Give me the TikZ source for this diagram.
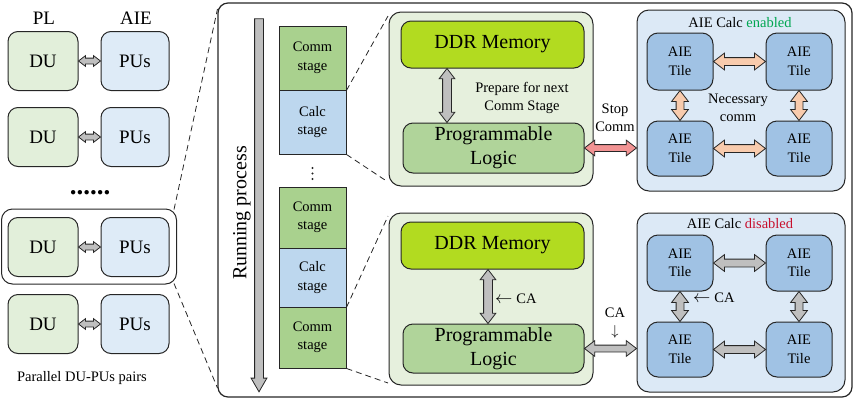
\documentclass[tikz,border=0pt]{standalone}
\usepackage{fontspec}
\setmainfont{Liberation Serif}
\usetikzlibrary{shapes.arrows,calc}
\definecolor{duF}{HTML}{E2EFDA}
\definecolor{puF}{HTML}{DEEBF7}
\definecolor{commF}{HTML}{A9D18E}
\definecolor{calcF}{HTML}{BDD7EE}
\definecolor{gbF}{HTML}{E6F0DD}
\definecolor{ddrF}{HTML}{B2DB20}
\definecolor{plF}{HTML}{B0D49A}
\definecolor{aieF}{HTML}{DCE9F6}
\definecolor{tileF}{HTML}{A0C2E4}
\definecolor{arrG}{HTML}{BFBFBF}
\definecolor{arrO}{HTML}{F8CBAD}
\definecolor{arrR}{HTML}{F29393}
\definecolor{enC}{HTML}{00A651}
\definecolor{disC}{HTML}{C8102E}
\newcommand\fA{\fontsize{19}{22}\selectfont}
\newcommand\fB{\fontsize{20}{24}\selectfont}
\newcommand\fC{\fontsize{14.5}{18.5}\selectfont}
\newcommand\larr{{\fontsize{19}{19}\selectfont$\leftarrow$}\hspace{4pt}}
% double block arrow: from, to, fill, half shaft width, head extend
\newcommand\barrow[5]{%
  \path let \p1=(#1), \p2=(#2),
    \n1={veclen(\x2-\x1,\y2-\y1)}, \n2={atan2(\y2-\y1,\x2-\x1)} in
    node[blockarr, fill=#3, inner sep=#4, double arrow head extend=#5,
         minimum height=\n1, rotate=\n2] at ($(\p1)!0.5!(\p2)$) {};}
\begin{document}
\begin{tikzpicture}[x=1pt,y=-1pt,
  rbox/.style={draw=black!85, line width=1pt, inner sep=0pt, align=center},
  du/.style={rbox, rounded corners=10pt, fill=duF, minimum width=70pt, minimum height=59pt, font=\fA},
  pu/.style={rbox, rounded corners=10pt, fill=puF, minimum width=68pt, minimum height=59pt, font=\fA},
  stagebox/.style={rbox, line width=0.9pt, minimum width=67pt, font=\fC},
  gbox/.style={rbox, rounded corners=12pt, fill=gbF, minimum width=204pt},
  ddr/.style={rbox, rounded corners=10pt, fill=ddrF, minimum width=183pt, minimum height=47pt, font=\fB},
  plbox/.style={rbox, rounded corners=10pt, fill=plF, minimum width=181pt, minimum height=50pt, font=\fB},
  aiebox/.style={rbox, rounded corners=12pt, fill=aieF, minimum width=208pt},
  tile/.style={rbox, rounded corners=11pt, fill=tileF, minimum width=66pt, font=\fC},
  lbl/.style={inner sep=0pt, align=center, font=\fC},
  blockarr/.style={double arrow, draw=black!85, line width=0.8pt, minimum width=0pt,
    double arrow tip angle=75},
  dline/.style={draw=black!85, line width=0.8pt, dash pattern=on 6pt off 4pt}
]
\useasboundingbox (0,0) rectangle (855,400);

% ---------------- left column ----------------
\node[inner sep=0pt, font=\fA] (plT) at (44,18) {PL};
\node[inner sep=0pt, font=\fA] (aieT) at (136,18) {AIE};
\node[du] (du1) at (43,61) {DU};
\node[pu] (pu1) at (135,61) {PUs};
\node[du] (du2) at (43,137) {DU};
\node[pu] (pu2) at (135,137) {PUs};
\node[inner sep=0pt, anchor=base, font=\fontsize{27}{28}\selectfont\bfseries] (ldots) at (90,194) {......};
\node[rbox, rounded corners=11pt, minimum width=175pt, minimum height=75pt] (hl) at (89,246.5) {};
\node[du] (du3) at (43,247) {DU};
\node[pu] (pu3) at (135,247) {PUs};
\node[du] (du4) at (43,324) {DU};
\node[pu] (pu4) at (135,324) {PUs};
\node[lbl] (par) at (82,378) {Parallel DU-PUs pairs};
\barrow{du1.east}{pu1.west}{arrG}{2.5pt}{2.5pt}
\barrow{du2.east}{pu2.west}{arrG}{2.5pt}{2.5pt}
\barrow{du3.east}{pu3.west}{arrG}{2.5pt}{2.5pt}
\barrow{du4.east}{pu4.west}{arrG}{2.5pt}{2.5pt}

% ---------------- big frame ----------------
\node[rbox, line width=1.2pt, rounded corners=10pt, minimum width=634pt, minimum height=394pt] (big) at (535,200) {};
\coordinate (bz1) at (217.5,9);
\coordinate (bz2) at (217.5,388);
\draw[dline] ([xshift=-3pt,yshift=-1pt]hl.north east) -- (bz1);
\draw[dline] ([xshift=-3pt,yshift=1pt]hl.south east) -- (bz2);

% running process arrow
\coordinate (ra1) at (259,15);
\coordinate (ra2) at (259,388);
\path let \p1=(ra1), \p2=(ra2), \n1={veclen(\x2-\x1,\y2-\y1)} in
  node[single arrow, draw=black!85, line width=0.8pt, fill=arrG, inner sep=4pt,
       minimum width=0pt, single arrow head extend=3.5pt, single arrow tip angle=60,
       minimum height=\n1, rotate=-90] (run) at ($(\p1)!0.5!(\p2)$) {};
\node[inner sep=0pt, font=\fB, rotate=90] (runT) at (242,213) {Running process};

% stages
\node[stagebox, fill=commF, minimum height=64pt] (c1) at (312.5,58) {Comm\\stage};
\node[stagebox, fill=calcF, minimum height=64pt] (k1) at (312.5,122) {Calc\\stage};
\fill[black!85] (312.5,168) circle (1.1pt) (312.5,173.5) circle (1.1pt) (312.5,179) circle (1.1pt);
\node[stagebox, fill=commF, minimum height=61pt] (c2) at (312.5,217.5) {Comm\\stage};
\node[stagebox, fill=calcF, minimum height=59pt] (k2) at (312.5,277.5) {Calc\\stage};
\node[stagebox, fill=commF, minimum height=61pt] (c3) at (312.5,337.5) {Comm\\stage};

% ---------------- upper detail ----------------
\node[gbox, minimum height=174pt] (g1) at (491,99) {};
\node[ddr] (ddr1) at (492.5,44.5) {DDR Memory};
\node[plbox] (pl1) at (493.5,148) {Programmable\\Logic};
\barrow{[xshift=-45.5pt]ddr1.south}{[xshift=-46.5pt]pl1.north}{arrG}{4pt}{3.5pt}
\node[lbl] (prep) at (522,98) {Prepare for next\\Comm Stage};
\node[lbl] (stop) at (615,118) {Stop\\Comm};

\node[aiebox, minimum height=181pt] (a1) at (741,100.5) {};
\node[lbl] (a1T) at (740,23) {AIE Calc \textcolor{enC}{enabled}};
\node[tile, minimum height=57pt] (t11) at (680,61.5) {AIE\\Tile};
\node[tile, minimum height=57pt] (t12) at (799,61.5) {AIE\\Tile};
\node[tile, minimum height=55pt] (t13) at (680,148.5) {AIE\\Tile};
\node[tile, minimum height=55pt] (t14) at (799,148.5) {AIE\\Tile};
\node[lbl] (nec) at (738,108) {Necessary\\comm};
\barrow{t11.east}{t12.west}{arrO}{3.5pt}{4.5pt}
\barrow{t13.east}{t14.west}{arrO}{3.5pt}{4.5pt}
\barrow{t11.south}{t13.north}{arrO}{3.5pt}{4.5pt}
\barrow{t12.south}{t14.north}{arrO}{3.5pt}{4.5pt}
\barrow{pl1.east}{a1.west |- pl1.east}{arrR}{3pt}{4.5pt}

\draw[dline] (c1.south east) -- (388,16);
\draw[dline] (k1.south east) -- (388,182);

% ---------------- lower detail ----------------
\node[gbox, minimum height=172pt] (g2) at (491,299) {};
\node[ddr] (ddr2) at (492.5,245.5) {DDR Memory};
\node[plbox, minimum height=49pt] (pl2) at (493.5,348.5) {Programmable\\Logic};
\barrow{[xshift=-4.5pt]ddr2.south}{[xshift=-5.5pt]pl2.north}{arrG}{4pt}{3.5pt}
\node[lbl, anchor=west] (ca1) at (495,299) {\larr CA};
\node[lbl] (ca2) at (615,313) {CA};
\node[lbl] (ca2a) at (615,332) {$\downarrow$};

\node[aiebox, minimum height=179pt] (a2) at (741,302.5) {};
\node[lbl] (a2T) at (740,224) {AIE Calc \textcolor{disC}{disabled}};
\node[tile, minimum height=56pt] (t21) at (680,263) {AIE\\Tile};
\node[tile, minimum height=56pt] (t22) at (799,263) {AIE\\Tile};
\node[tile, minimum height=55pt] (t23) at (680,349.5) {AIE\\Tile};
\node[tile, minimum height=55pt] (t24) at (799,349.5) {AIE\\Tile};
\node[lbl, anchor=west] (ca3) at (693,298) {\larr CA};
\barrow{t21.east}{t22.west}{arrG}{3.5pt}{4.5pt}
\barrow{t23.east}{t24.west}{arrG}{3.5pt}{4.5pt}
\barrow{t21.south}{t23.north}{arrG}{3.5pt}{4.5pt}
\barrow{t22.south}{t24.north}{arrG}{3.5pt}{4.5pt}
\barrow{pl2.east}{a2.west |- pl2.east}{arrG}{3pt}{4.5pt}

\draw[dline] (k2.south east) -- (388,216);
\draw[dline] (c3.south east) -- (388,383);
\end{tikzpicture}
\end{document}
